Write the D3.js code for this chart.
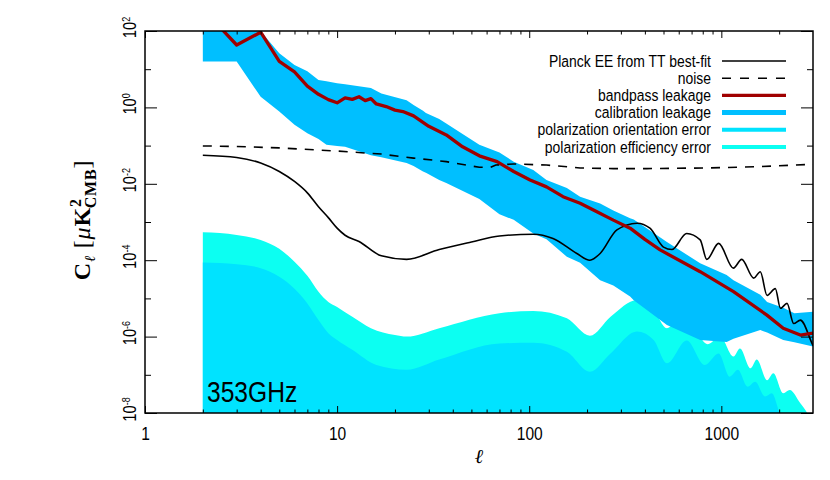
<!DOCTYPE html>
<meta charset="utf-8">
<style>
body { margin: 0; background: #fff; }
svg text { font-family: "Liberation Sans", Arial, sans-serif; fill: #000; }
.tick line { stroke: #000; stroke-width: 1; }
svg text.serif { font-family: "Liberation Serif", "DejaVu Serif", serif; }
</style>
<body>
<svg id="chart" width="830" height="480"></svg>
<script src="https://d3js.org/d3.v7.min.js"></script>
<script>

// Planck EE from TT best-fit
var eeEll = [2, 3, 4, 5, 6, 7, 8, 9, 10, 11, 13, 17, 23, 34, 50, 70, 105, 133, 177, 207, 234, 286, 364, 425, 500, 553, 660, 776, 840, 968, 1155, 1276, 1475, 1595, 1730, 1910, 2030, 2197, 2380, 2578, 2965, 3000];
var eeCl  = [0.056, 0.049, 0.035, 0.021, 0.0115, 0.0058, 0.0025, 0.0013, 6.9e-4, 4.5e-4, 3.1e-4, 1.3e-4, 1.05e-4, 1.9e-4, 3.0e-4, 4.3e-4, 4.8e-4, 3.7e-4, 1.5e-4, 1.0e-4, 1.5e-4, 6.2e-4, 9.3e-4, 6.9e-4, 2.2e-4, 1.9e-4, 5.0e-4, 3.4e-4, 1.05e-4, 2.75e-4, 6.2e-5, 1.05e-4, 3.4e-5, 5.0e-5, 1.2e-5, 1.8e-5, 5.5e-6, 7.4e-6, 2.2e-6, 2.7e-6, 6.6e-7, 5.8e-7];

// noise
var noiseEll = [2, 3, 5, 10, 17, 25, 34, 37, 55, 63, 67, 83, 123, 184, 274, 409, 840, 1530, 2800, 3000];
var noiseCl  = [0.098, 0.095, 0.087, 0.072, 0.060, 0.047, 0.040, 0.038, 0.027, 0.027, 0.031, 0.033, 0.031, 0.026, 0.025, 0.025, 0.026, 0.028, 0.032, 0.032];

// bandpass leakage
var bpEll = [2, 3, 4, 5, 6, 7, 8, 9, 10, 11, 12, 13, 14, 15, 16, 18, 20, 22, 25, 30, 37, 45, 55, 68, 83, 101, 123, 150, 184, 225, 274, 335, 400, 480, 776, 1157, 1720, 2100, 2578, 3000];
var bpCl  = [380, 43, 93, 16, 8.5, 3.6, 2.2, 1.6, 1.32, 1.78, 1.62, 1.9, 1.5, 1.7, 1.23, 1.05, 0.85, 0.78, 0.60, 0.32, 0.19, 0.093, 0.054, 0.038, 0.021, 0.0126, 0.0083, 0.0046, 0.0031, 0.00186, 0.00112, 6.9e-4, 3.5e-4, 1.86e-4, 5.0e-5, 1.5e-5, 3.7e-6, 1.66e-6, 1.1e-6, 1.23e-6];

// calibration leakage (band: upper and lower edge)
var calHiEll = [2, 3, 4, 5, 6, 8, 10, 15, 17, 23, 25, 29, 37, 55, 83, 123, 184, 274, 335, 521, 776, 1157, 1730, 2400, 3000];
var calHi    = [400, 200, 98, 26, 12.9, 5.2, 4.3, 3.2, 2.3, 1.55, 1.15, 0.71, 0.38, 0.105, 0.038, 0.0126, 0.0046, 0.002, 0.00126, 3.0e-4, 8.3e-5, 3.0e-5, 8.1e-6, 4.1e-6, 4.5e-6];
var calLoEll = [2, 3, 4, 5, 6, 7, 8.8, 11, 15, 23, 28, 34, 37, 55, 70, 105, 157, 234, 350, 521, 776, 1066, 1595, 2100, 3000];
var calLo    = [15.8, 15.8, 1.9, 0.78, 0.35, 0.21, 0.105, 0.093, 0.056, 0.035, 0.021, 0.0126, 0.0105, 0.004, 0.0016, 5.0e-4, 1.23e-4, 3.0e-5, 9.0e-6, 2.0e-6, 8.1e-7, 7.2e-7, 1.48e-6, 8.1e-7, 5.5e-7];

// polarization orientation error
var orEll = [2, 3, 4, 5, 6, 7, 8, 9, 10, 12, 16, 23, 34, 70, 105, 157, 207, 265, 364, 444, 521, 660, 820, 968, 1105, 1220, 1370, 1500, 1690, 1830, 2015, 2200];
var orCl  = [8.7e-5, 7.8e-5, 6.2e-5, 3.7e-5, 1.8e-5, 7.4e-6, 2.7e-6, 1.23e-6, 8.1e-7, 4.5e-7, 1.8e-7, 1.35e-7, 2.5e-7, 6.6e-7, 6.9e-7, 4.0e-7, 1.2e-7, 3.6e-7, 1.35e-6, 8.1e-7, 2.0e-7, 7.9e-7, 1.8e-7, 3.6e-7, 8.9e-8, 1.35e-7, 4.9e-8, 6.6e-8, 2.7e-8, 3.3e-8, 1.0e-8, 5e-9];

// polarization efficiency error
var efEll = [2, 3, 4, 5, 6, 7, 8, 9, 10, 12, 15, 20, 23, 34, 70, 105, 157, 207, 265, 364, 444, 521, 640, 850, 985, 1157, 1250, 1420, 1530, 1730, 1865, 2100, 2270, 2578, 2800, 3000];
var efCl  = [5.4e-4, 4.6e-4, 3.4e-4, 2.0e-4, 9.1e-5, 3.9e-5, 1.5e-5, 8.1e-6, 6.0e-6, 3.3e-6, 1.66e-6, 1.1e-6, 1.0e-6, 1.66e-6, 4.1e-6, 4.7e-6, 3.0e-6, 1.05e-6, 3.3e-6, 9.1e-6, 5.0e-6, 1.66e-6, 4.0e-6, 6.3e-7, 1.0e-6, 3.0e-7, 4.9e-7, 1.48e-7, 2.5e-7, 7.2e-8, 1.1e-7, 3.3e-8, 4.0e-8, 1.8e-8, 1.0e-8, 5e-9];

var xMajor = [1, 10, 100, 1000];
var xMinor = [2, 3, 4, 5, 6, 7, 8, 9, 20, 30, 40, 50, 60, 70, 80, 90, 200, 300, 400, 500, 600, 700, 800, 900, 2000];
var yMajor = [1e2, 1e0, 1e-2, 1e-4, 1e-6, 1e-8];
var yExp   = ["2", "0", "-2", "-4", "-6", "-8"];
var yMinor = [1e1, 1e-1, 1e-3, 1e-5, 1e-7];

var legendNames = ["Planck EE from TT best-fit", "noise", "bandpass leakage", "calibration leakage", "polarization orientation error", "polarization efficiency error"];

var plotL = 145, plotR = 813, plotT = 31, plotB = 413;
var narrow = 0.82;   // gnuplot's condensed helvetica look

var svg = d3.select("#chart");

var x = d3.scaleLog().domain([1, 3000]).range([plotL, plotR]);
var y = d3.scaleLog().domain([1e-8, 1e2]).range([plotB, plotT]);

function pairs(ells, vals) {
  return ells.map((l, i) => [l, vals[i]]);
}

svg.append("clipPath").attr("id", "plotClip")
   .append("rect").attr("x", plotL).attr("y", plotT)
   .attr("width", plotR - plotL).attr("height", plotB - plotT);

var plot = svg.append("g").attr("clip-path", "url(#plotClip)");

var fillDown = d3.area()
  .x(d => x(d[0]))
  .y0(plotB + 5)
  .y1(d => y(d[1]))
  .curve(d3.curveMonotoneX);

plot.append("path")
    .datum(pairs(efEll, efCl))
    .attr("d", fillDown)
    .attr("fill", "#0cfff2");

plot.append("path")
    .datum(pairs(orEll, orCl))
    .attr("d", fillDown)
    .attr("fill", "#00e3ff");

// calibration band, both edges put on one ell grid
var calEll = Array.from(new Set(calHiEll.concat(calLoEll))).sort((a, b) => a - b);
var hiInterp = d3.scaleLog().domain(calHiEll).range(calHi);
var loInterp = d3.scaleLog().domain(calLoEll).range(calLo);
plot.append("path")
    .datum(calEll)
    .attr("d", d3.area()
      .x(d => x(d))
      .y0(d => y(loInterp(d)))
      .y1(d => y(hiInterp(d))))
    .attr("fill", "#00bfff");

var lineSmooth = d3.line()
  .x(d => x(d[0]))
  .y(d => y(d[1]))
  .curve(d3.curveMonotoneX);

var lineStraight = d3.line()
  .x(d => x(d[0]))
  .y(d => y(d[1]));

plot.append("path")
    .datum(pairs(eeEll, eeCl))
    .attr("d", lineSmooth)
    .attr("fill", "none")
    .attr("stroke", "#000")
    .attr("stroke-width", 1.6);

plot.append("path")
    .datum(pairs(noiseEll, noiseCl))
    .attr("d", lineStraight)
    .attr("fill", "none")
    .attr("stroke", "#000")
    .attr("stroke-width", 1.6)
    .attr("stroke-dasharray", "9,8");

plot.append("path")
    .datum(pairs(bpEll, bpCl))
    .attr("d", lineStraight)
    .attr("fill", "none")
    .attr("stroke", "#a00000")
    .attr("stroke-width", 3.3)
    .attr("stroke-linejoin", "round");

// axes, ticks pointing inward on all four sides
function addAxis(axis, tx, ty) {
  var g = svg.append("g")
    .attr("transform", "translate(" + tx + "," + ty + ")")
    .call(axis);
  g.select(".domain").remove();
  return g;
}

addAxis(d3.axisBottom(x).tickValues(xMinor).tickSize(-3.5).tickFormat(""), 0, plotB);
addAxis(d3.axisTop(x).tickValues(xMinor).tickSize(-3.5).tickFormat(""), 0, plotT);
addAxis(d3.axisTop(x).tickValues(xMajor).tickSize(-7).tickFormat(""), 0, plotT);
var xAx = addAxis(d3.axisBottom(x).tickValues(xMajor).tickSize(-7).tickFormat(d3.format("d")), 0, plotB);
xAx.selectAll(".tick text")
   .attr("y", null).attr("dy", null)
   .attr("transform", "translate(0,27) scale(" + narrow + ",1)")
   .style("font-size", "19px");

addAxis(d3.axisLeft(y).tickValues(yMinor).tickSize(-6).tickFormat(""), plotL, 0);
addAxis(d3.axisRight(y).tickValues(yMinor).tickSize(-6).tickFormat(""), plotR, 0);
addAxis(d3.axisRight(y).tickValues(yMajor).tickSize(-12).tickFormat(""), plotR, 0);
var yAx = addAxis(d3.axisLeft(y).tickValues(yMajor).tickSize(-12).tickFormat(""), plotL, 0);

yAx.selectAll(".tick text").each(function(d, i) {
  var t = d3.select(this)
    .attr("x", null).attr("dy", null)
    .attr("text-anchor", "middle")
    .attr("transform", "translate(-9,-4) rotate(-90) scale(" + narrow + ",1)")
    .style("font-size", "18px");
  t.append("tspan").text("10");
  t.append("tspan").attr("dy", "-0.55em").style("font-size", "11px").text(yExp[i]);
});

svg.append("rect")
   .attr("x", plotL).attr("y", plotT)
   .attr("width", plotR - plotL).attr("height", plotB - plotT)
   .attr("fill", "none").attr("stroke", "#000").attr("stroke-width", 1.5);

// axis titles
svg.append("text")
   .attr("class", "serif")
   .attr("x", (plotL + plotR) / 2).attr("y", 463)
   .attr("text-anchor", "middle")
   .style("font-style", "italic").style("font-size", "20px")
   .text("ℓ");

var yl = svg.append("text")
   .attr("class", "serif")
   .attr("transform", "translate(90,220) rotate(-90)")
   .attr("text-anchor", "middle")
   .style("font-size", "24px")
   .style("letter-spacing", "0.8px");
yl.append("tspan").style("font-weight", "bold").text("C");
yl.append("tspan").attr("dy", 5).style("font-style", "italic").style("font-size", "15px").text("ℓ");
yl.append("tspan").attr("dy", -5).text(" [");
yl.append("tspan").style("font-style", "italic").text("μ");
yl.append("tspan").style("font-weight", "bold").text("K");
yl.append("tspan").attr("dy", -9).style("font-weight", "bold").style("font-size", "16px").text("2");
yl.append("tspan").attr("dx", -10).attr("dy", 15).style("font-weight", "bold").style("font-size", "16px").text("CMB");
yl.append("tspan").attr("dy", -6).text("]");

svg.append("text")
   .attr("transform", "translate(207,402) scale(" + narrow + ",1)")
   .style("font-size", "30px")
   .text("353GHz");

// legend
var legStyles = [
  {stroke: "#000", width: 1.6, dash: null},
  {stroke: "#000", width: 1.6, dash: "9,9"},
  {stroke: "#a00000", width: 3.3, dash: null},
  {stroke: "#00bfff", width: 5, dash: null},
  {stroke: "#00e3ff", width: 4, dash: null},
  {stroke: "#0cfff2", width: 4, dash: null}
];

var leg = svg.append("g");
legendNames.forEach(function(name, i) {
  var ly = 61 + i * 17.2;
  leg.append("text")
     .attr("transform", "translate(711," + (ly + 5.5) + ") scale(" + narrow + ",1)")
     .attr("text-anchor", "end")
     .style("font-size", "17px")
     .text(name);
  leg.append("line")
     .attr("x1", 722).attr("x2", 786)
     .attr("y1", ly).attr("y2", ly)
     .attr("stroke", legStyles[i].stroke)
     .attr("stroke-width", legStyles[i].width)
     .attr("stroke-dasharray", legStyles[i].dash);
});

</script>
</body>
